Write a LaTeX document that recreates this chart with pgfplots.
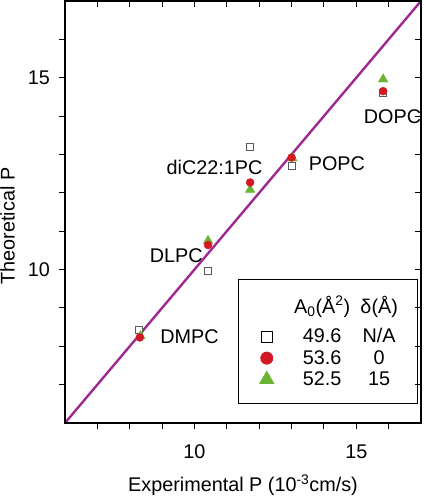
\documentclass[border=0pt]{standalone}
\usepackage{pgfplots}
\pgfplotsset{compat=1.18}
\usepackage{fontspec}
\setmainfont{Liberation Sans}
\usetikzlibrary{calc}
\definecolor{lineP}{RGB}{158,42,145}
\definecolor{redC}{RGB}{210,25,35}
\definecolor{greenT}{RGB}{105,180,50}
\definecolor{sqC}{RGB}{90,90,90}
\newcommand{\fs}{\fontsize{19.8}{22}\selectfont}
\newcommand{\lc}[2]{\makebox[57pt][c]{#1}\makebox[57pt][c]{#2}\hspace*{-12pt}}
\begin{document}
\begin{tikzpicture}
\pgfplotsset{
  sq/.style={only marks, mark=square*, mark options={draw=sqC, fill=white, line width=0.7pt}, mark size=3.5pt, legend image post style={mark size=5.5pt, mark options={draw=black, fill=white, line width=0.8pt}}},
  ci/.style={only marks, mark=*, mark options={draw=redC, fill=redC}, mark size=4pt, legend image post style={mark size=6pt}},
  tr/.style={only marks, mark=triangle*, mark options={draw=greenT, fill=greenT}, mark size=5.5pt, legend image post style={mark size=8pt}},
  base/.style={scale only axis, width=356pt, height=422pt,
    xmin=6, xmax=17, ymin=6, ymax=17,
    xtick={10,15}, ytick={10,15},
    minor xtick={7,8,9,11,12,13,14,16}, minor ytick={7,8,9,11,12,13,14,16},
    major tick length=6pt, minor tick length=6pt,
    tick style={line width=1.1pt, black},
    axis line style={line width=1.4pt},
  },
}
\begin{axis}[base,
  xtick pos=left, ytick pos=left, tick align=outside,
  /pgf/number format/assume math mode=true,
  ticklabel style={font=\fs},
  xticklabel style={inner sep=0pt, anchor=base, yshift=-29pt},
  yticklabel style={inner sep=0pt, anchor=east, xshift=-9pt},
  every axis x label/.style={at={(rel axis cs:0.5,0)}, yshift=-68.7pt, anchor=base, inner sep=0pt, font=\fs},
  every axis y label/.style={at={(rel axis cs:0,0.467)}, xshift=-57.5pt, rotate=90, anchor=center, inner sep=0pt, font=\fs},
  xlabel={Experimental P (10\textsuperscript{-3}cm/s)},
  ylabel={Theoretical P},
  legend style={at={(0.992,0.046)}, anchor=south east, draw=black, line width=0.9pt, fill=white,
    font=\fs, inner xsep=20pt, inner ysep=14pt, row sep=2pt,
    /tikz/every odd column/.append style={column sep=18pt}},
  legend cell align=left,
]
\coordinate (bl) at (rel axis cs:0,0);
\coordinate (tr) at (rel axis cs:1,1);
\addlegendimage{empty legend}
\addlegendentry{\raisebox{8pt}{\lc{A\textsubscript{0}(Å\textsuperscript{2})}{δ(Å)}}}
\addplot[sq] coordinates {(8.29,8.43) (10.42,9.97) (11.72,13.19) (13.02,12.70) (15.83,14.60)};
\addlegendentry{\lc{49.6}{N/A}}
\addplot[tr, forget plot] coordinates {(8.33,8.27) (10.42,10.75) (11.72,12.08) (13.03,12.90) (15.83,14.96)};
\addplot[ci] coordinates {(8.31,8.23) (10.42,10.64) (11.72,12.27) (13.00,12.92) (15.83,14.65)};
\addlegendentry{\lc{53.6}{0}}
\addlegendimage{tr}
\addlegendentry{\lc{52.5}{15}}
\addplot[lineP, line width=2.4pt, forget plot] coordinates {(6,6) (17,17)};
\node[font=\fs, inner sep=0pt] at (axis cs:16.12,13.98) {DOPC};
\node[font=\fs, inner sep=0pt] at (axis cs:14.40,12.75) {POPC};
\node[font=\fs, inner sep=0pt] at (axis cs:10.62,12.66) {diC22:1PC};
\node[font=\fs, inner sep=0pt] at (axis cs:9.44,10.37) {DLPC};
\node[font=\fs, inner sep=0pt] at (axis cs:9.85,8.25) {DMPC};
\end{axis}
\begin{axis}[base,
  xtick pos=right, ytick pos=right, tick align=inside,
  xticklabels={}, yticklabels={},
]
\end{axis}
\pgfresetboundingbox
\path ($(bl)+(-65pt,-73pt)$) rectangle ($(tr)+(5pt,1pt)$);
\end{tikzpicture}
\end{document}
